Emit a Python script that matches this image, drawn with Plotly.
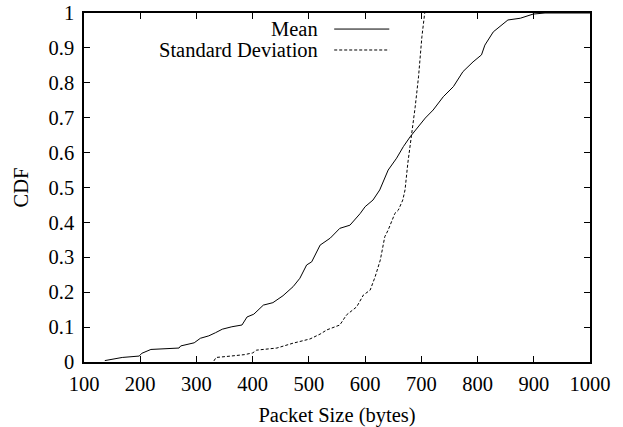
import plotly.graph_objects as go

# Mean packet size CDF
mean_x = [137, 168, 198, 203, 219, 269, 272, 296, 307, 322, 334, 346, 363, 381, 390,
          402, 419, 436, 454, 472, 484, 496, 505, 520, 538, 555, 573, 591, 600, 614,
          626, 641, 656, 668, 680, 692, 707, 721, 739, 757, 774, 792, 807, 813, 828,
          854, 876, 899, 920, 1000]
mean_y = [0.004, 0.013, 0.017, 0.025, 0.036, 0.040, 0.046, 0.055, 0.068, 0.075, 0.084,
          0.094, 0.101, 0.106, 0.129, 0.137, 0.163, 0.170, 0.190, 0.216, 0.240, 0.278,
          0.287, 0.335, 0.355, 0.383, 0.392, 0.425, 0.445, 0.464, 0.493, 0.550, 0.584,
          0.617, 0.645, 0.670, 0.699, 0.722, 0.760, 0.789, 0.832, 0.860, 0.880, 0.908,
          0.946, 0.980, 0.985, 0.997, 1.0, 1.0]

# Standard deviation CDF
std_x = [331, 335, 361, 385, 400, 407, 443, 472, 502, 520, 532, 555, 567, 585, 597,
         609, 618, 627, 635, 641, 653, 659, 667, 671, 676, 683, 689, 695, 701, 706]
std_y = [0.003, 0.013, 0.017, 0.021, 0.026, 0.034, 0.040, 0.054, 0.066, 0.080, 0.092,
         0.106, 0.135, 0.158, 0.192, 0.206, 0.245, 0.292, 0.359, 0.378, 0.426, 0.435,
         0.464, 0.493, 0.570, 0.655, 0.730, 0.817, 0.932, 1.0]

x_ticks = [100, 200, 300, 400, 500, 600, 700, 800, 900, 1000]
y_ticks = [0, 0.1, 0.2, 0.3, 0.4, 0.5, 0.6, 0.7, 0.8, 0.9, 1]
y_tick_labels = ["0", "0.1", "0.2", "0.3", "0.4", "0.5", "0.6", "0.7", "0.8", "0.9", "1"]

series_names = ["Mean", "Standard Deviation"]

FONT = "Liberation Serif"
FS = 20.5

fig = go.Figure()
fig.add_trace(go.Scatter(x=mean_x, y=mean_y, mode="lines", name=series_names[0],
                         line=dict(color="black", width=1), showlegend=False))
fig.add_trace(go.Scatter(x=std_x, y=std_y, mode="lines", name=series_names[1],
                         line=dict(color="black", width=1, dash="3px,2px"), showlegend=False))

# Manual gnuplot-style legend: text right-aligned, sample line to the right
leg_y = [0.954, 0.894]
dashes = ["solid", "3px,2px"]
for name, yy, d in zip(series_names, leg_y, dashes):
    fig.add_annotation(x=520, y=yy, xref="x", yref="y", text=name, showarrow=False,
                       xanchor="right", yanchor="middle",
                       font=dict(family=FONT, size=FS, color="black"))
    fig.add_shape(type="line", xref="x", yref="y", x0=545, x1=643, y0=yy, y1=yy,
                  line=dict(color="black", width=1, dash=d))

axis_common = dict(showgrid=False, zeroline=False, showline=True, linecolor="black",
                   linewidth=1.5, mirror="allticks", ticks="inside", ticklen=6,
                   tickcolor="black", tickwidth=1, automargin=False,
                   tickfont=dict(family=FONT, size=FS, color="black"))

fig.update_xaxes(range=[100, 1000], tickvals=x_ticks, ticktext=[str(v) for v in x_ticks],
                 ticklabelstandoff=3,
                 title=dict(text="Packet Size (bytes)", font=dict(family=FONT, size=FS, color="black"),
                            standoff=19),
                 **axis_common)
fig.update_yaxes(range=[0, 1], tickvals=y_ticks, ticktext=y_tick_labels,
                 ticklabelstandoff=4,
                 title=dict(text="CDF", font=dict(family=FONT, size=FS, color="black"),
                            standoff=14),
                 **axis_common)

fig.update_layout(width=623, height=427, margin=dict(l=84, r=33, t=13, b=65),
                  plot_bgcolor="white", paper_bgcolor="white",
                  font=dict(family=FONT, size=FS, color="black"))

# remove the browser's default 8px body margin so the figure fills the window exactly
fig.write_html("out.html", config={"displayModeBar": False},
               post_script="document.body.style.margin='0px';")
